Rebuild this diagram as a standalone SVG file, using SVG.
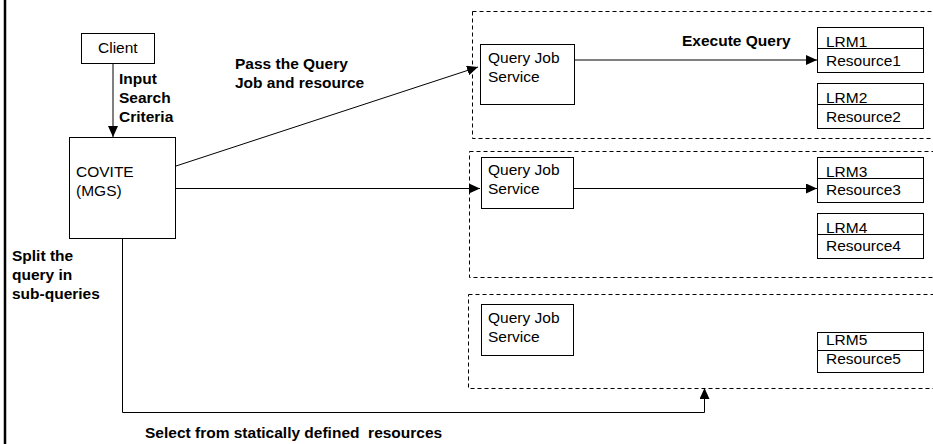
<svg xmlns="http://www.w3.org/2000/svg" width="933" height="444" viewBox="0 0 933 444">
  <style>
    .box { fill: #fff; stroke: #000; stroke-width: 1; }
    .group { fill: none; stroke: #000; stroke-width: 1; stroke-dasharray: 4 3; }
    .txt { font-family: "Liberation Sans", Arial, sans-serif; font-size: 15.5px; fill: #000; }
    .lbl { font-family: "Liberation Sans", Arial, sans-serif; font-size: 15.5px; font-weight: bold; fill: #000; white-space: pre; }
    .edge { fill: none; stroke: #000; stroke-width: 1; }
    .edge-arrow { fill: none; stroke: #000; stroke-width: 1; marker-end: url(#head); }
  </style>
  <defs>
    <marker id="head" markerUnits="userSpaceOnUse" markerWidth="11" markerHeight="10" refX="11" refY="5" orient="auto">
      <path d="M0,0 L11,5 L0,10 Z" fill="#000"/>
    </marker>
  </defs>

  <rect x="0" y="0" width="933" height="444" fill="#fff"/>
  <!-- left page border -->
  <line x1="5" y1="0" x2="5" y2="444" stroke="#000" stroke-width="2.5"/>

  <!-- dashed service groups -->
  <g id="group1"><rect class="group" x="472.5" y="11.5" width="470" height="127"/></g>
  <g id="group2"><rect class="group" x="469.5" y="151.5" width="473" height="126"/></g>
  <g id="group3"><rect class="group" x="468.5" y="294.5" width="474" height="94"/></g>

  <!-- connectors -->
  <g id="connectors">
    <line class="edge-arrow" x1="113" y1="64" x2="113" y2="137"/>
    <line class="edge-arrow" x1="176" y1="166" x2="478" y2="67"/>
    <line class="edge-arrow" x1="176" y1="188.5" x2="480" y2="188.5"/>
    <line class="edge-arrow" x1="575" y1="60" x2="817" y2="60"/>
    <line class="edge-arrow" x1="574" y1="188.5" x2="817" y2="188.5"/>
    <polyline class="edge-arrow" points="122.5,239 122.5,412.5 704.5,412.5 704.5,388"/>
  </g>

  <!-- edge labels -->
  <g id="labels">
    <text class="lbl" x="119" y="84">Input</text>
    <text class="lbl" x="119" y="103">Search</text>
    <text class="lbl" x="119" y="122">Criteria</text>
    <text class="lbl" x="235" y="69">Pass the Query</text>
    <text class="lbl" x="235" y="88">Job and resource</text>
    <text class="lbl" x="682" y="46">Execute Query</text>
    <text class="lbl" x="12" y="261">Split the</text>
    <text class="lbl" x="12" y="280">query in</text>
    <text class="lbl" x="12" y="299">sub-queries</text>
    <text class="lbl" x="145" y="438" xml:space="preserve">Select from statically defined  resources</text>
  </g>

  <!-- nodes -->
  <g id="client">
    <rect class="box" x="81.5" y="33.5" width="73" height="30"/>
    <text class="txt" x="98" y="53">Client</text>
  </g>
  <g id="covite">
    <rect class="box" x="69.5" y="137.5" width="106" height="101"/>
    <text class="txt" x="76" y="177">COVITE</text>
    <text class="txt" x="76" y="196">(MGS)</text>
  </g>

  <g id="qjs1">
    <rect class="box" x="480.5" y="44.5" width="94" height="60"/>
    <text class="txt" x="488" y="63">Query Job</text>
    <text class="txt" x="488" y="82">Service</text>
  </g>
  <g id="qjs2">
    <rect class="box" x="481.5" y="157.5" width="92" height="51"/>
    <text class="txt" x="488" y="175">Query Job</text>
    <text class="txt" x="488" y="194">Service</text>
  </g>
  <g id="qjs3">
    <rect class="box" x="481.5" y="304.5" width="92" height="51"/>
    <text class="txt" x="488" y="323">Query Job</text>
    <text class="txt" x="488" y="342">Service</text>
  </g>

  <g id="lrm1">
    <rect class="box" x="817.5" y="27.5" width="106" height="45"/>
    <text class="txt" x="826" y="47">LRM1</text>
    <line class="edge" x1="817.5" y1="48.5" x2="923.5" y2="48.5"/>
    <text class="txt" x="826" y="66">Resource1</text>
  </g>
  <g id="lrm2">
    <rect class="box" x="817.5" y="83.5" width="106" height="45"/>
    <text class="txt" x="826" y="103">LRM2</text>
    <line class="edge" x1="817.5" y1="104.5" x2="923.5" y2="104.5"/>
    <text class="txt" x="826" y="122">Resource2</text>
  </g>
  <g id="lrm3">
    <rect class="box" x="817.5" y="157.5" width="106" height="45"/>
    <text class="txt" x="826" y="177">LRM3</text>
    <line class="edge" x1="817.5" y1="178.5" x2="923.5" y2="178.5"/>
    <text class="txt" x="826" y="195">Resource3</text>
  </g>
  <g id="lrm4">
    <rect class="box" x="817.5" y="213.5" width="106" height="45"/>
    <text class="txt" x="826" y="233">LRM4</text>
    <line class="edge" x1="817.5" y1="234.5" x2="923.5" y2="234.5"/>
    <text class="txt" x="826" y="251">Resource4</text>
  </g>
  <g id="lrm5">
    <rect class="box" x="817.5" y="332.5" width="106" height="40"/>
    <text class="txt" x="826" y="345">LRM5</text>
    <line class="edge" x1="817.5" y1="350.5" x2="923.5" y2="350.5"/>
    <text class="txt" x="826" y="364">Resource5</text>
  </g>
</svg>
